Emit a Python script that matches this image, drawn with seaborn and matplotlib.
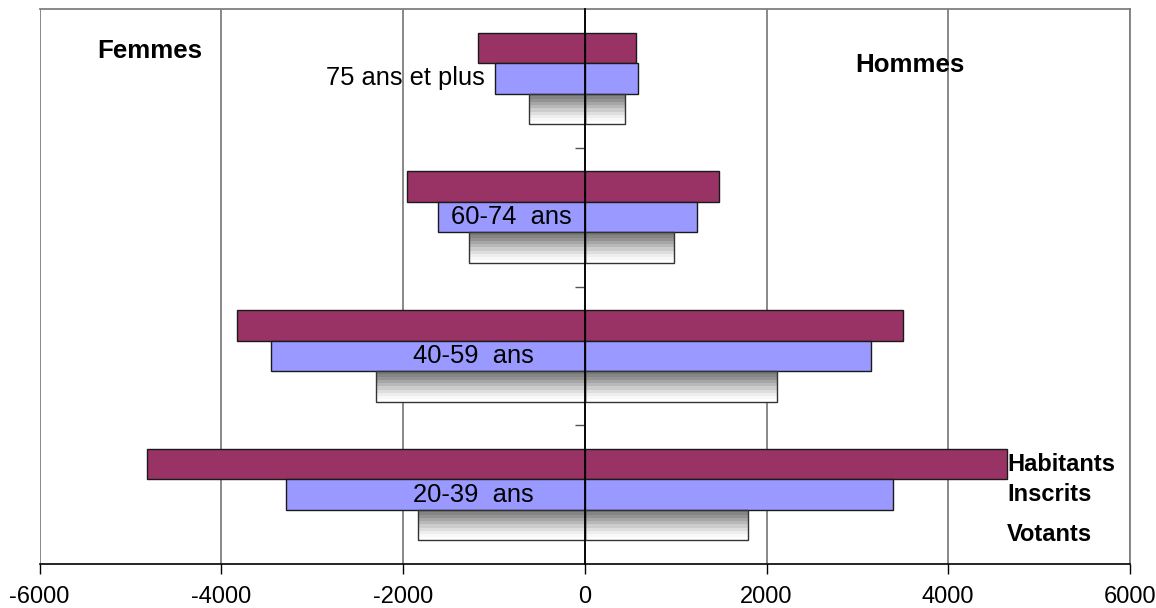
import numpy as np
import pandas as pd
import matplotlib
matplotlib.use("Agg")
import matplotlib.pyplot as plt
import seaborn as sns

# donnees (du haut vers le bas)
ages = ['75 ans et plus', '60-74 ans', '40-59 ans', '20-39 ans']
series = ['Habitants', 'Inscrits', 'Votants']

femmes_habitants = [1170, 1956, 3829, 4816]
femmes_inscrits = [987, 1616, 3448, 3283]
femmes_votants = [611, 1269, 2296, 1835]

hommes_habitants = [567, 1473, 3507, 4650]
hommes_inscrits = [589, 1232, 3145, 3395]
hommes_votants = [446, 987, 2117, 1793]

couleurs = {'Habitants': '#993366', 'Inscrits': '#9999FF', 'Votants': 'white'}


def construire_df(hab, ins, vot, signe):
    """
        Table longue pour seaborn
    """
    lignes = []
    for serie, vals in zip(series, [hab, ins, vot]):
        for age, v in zip(ages, vals):
            lignes.append({'age': age, 'serie': serie, 'valeur': signe * v})
    return pd.DataFrame(lignes)


df_femmes = construire_df(femmes_habitants, femmes_inscrits, femmes_votants, -1)
df_hommes = construire_df(hommes_habitants, hommes_inscrits, hommes_votants, 1)

sns.set_style("white")
plt.rcParams['font.family'] = ['Liberation Sans', 'DejaVu Sans']
plt.rcParams['axes.unicode_minus'] = False
plt.rcParams['text.color'] = 'black'
plt.rcParams['xtick.color'] = 'black'
plt.rcParams['xtick.labelcolor'] = 'black'

fig = plt.figure(figsize=(11.56, 6.08), dpi=100)
ax = fig.add_axes([0.0342, 0.0724, 0.9775 - 0.0342, 0.985 - 0.0724])

for df in [df_femmes, df_hommes]:
    sns.barplot(data=df, x='valeur', y='age', hue='serie', order=ages,
                hue_order=series, palette=couleurs, orient='h', width=0.66,
                errorbar=None, legend=False, edgecolor='#1a1a1a',
                linewidth=1, saturation=1, ax=ax)

# degrade gris -> blanc pour les votants
degrade = np.array([0.47, 0.52, 0.58, 0.65, 0.72, 0.8, 0.87, 0.93, 0.97, 1.0]).reshape(-1, 1)
idx_vot = series.index('Votants')
for k, cont in enumerate(ax.containers):
    if k % len(series) != idx_vot:
        continue
    for p in cont.patches:
        x0, y0 = p.get_x(), p.get_y()
        w, h = p.get_width(), p.get_height()
        p.set_facecolor('none')
        p.set_edgecolor('#333333')
        p.set_zorder(2)
        im = ax.imshow(degrade, cmap='gray', vmin=0, vmax=1, aspect='auto',
                       origin='upper', extent=(x0, x0 + w, y0 + h, y0),
                       interpolation='nearest', zorder=1.5)
        im.set_clip_path(p)

ax.set_xlim(-6000, 6000)
ax.set_ylim(3.5, -0.5)
ax.set_xticks(range(-6000, 6001, 2000))
ax.set_yticks([0.5, 1.5, 2.5])
ax.set_yticklabels(['', '', ''])
ax.set_xlabel('')
ax.set_ylabel('')

ax.grid(axis='x', color='#7f7f7f', linewidth=1.3)
ax.grid(axis='y', visible=False)
ax.set_axisbelow(True)

ax.spines['left'].set_position(('data', 0))
ax.spines['left'].set_color('black')
ax.spines['left'].set_linewidth(1.3)
ax.spines['left'].set_zorder(3)
ax.spines['bottom'].set_color('black')
ax.spines['bottom'].set_linewidth(1.2)
for s in ['top', 'right']:
    ax.spines[s].set_color('#7f7f7f')
    ax.spines[s].set_linewidth(1.3)

ax.tick_params(axis='x', direction='out', length=7, width=1, pad=9,
               labelsize=17, color='black', labelcolor='black', bottom=True)
ax.tick_params(axis='y', direction='out', length=7, width=1,
               color='#555555', left=True)

# etiquettes des tranches d'age sur les barres Inscrits
pos_labels = {'20-39 ans': -1230, '40-59 ans': -1230,
              '60-74 ans': -810, '75 ans et plus': -1975}
for i, age in enumerate(ages):
    txt = age.replace(' ans', '  ans') if age[0] != '7' else age
    ax.text(pos_labels[age], i, txt, ha='center', va='center',
            fontsize=18.4, color='black', zorder=4)

# legende a droite des barres 20-39 ans
i_bas = ages.index('20-39 ans')
decalage = {'Habitants': -0.22, 'Inscrits': 0.0, 'Votants': 0.29}
for serie in series:
    ax.text(4650, i_bas + decalage[serie], serie, ha='left', va='center',
            fontsize=17, fontweight='bold', color='black', zorder=4)

ax.text(-4790, -0.2, 'Femmes', ha='center', va='center',
        fontsize=18.6, fontweight='bold', color='black')
ax.text(3580, -0.1, 'Hommes', ha='center', va='center',
        fontsize=18.6, fontweight='bold', color='black')

fig.savefig('out.png', dpi=100)
